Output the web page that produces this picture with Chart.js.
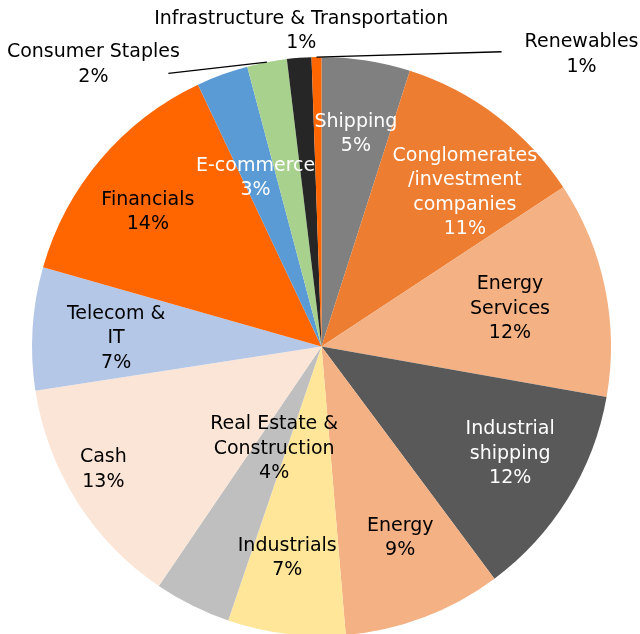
<!DOCTYPE html>
<html>
<head>
<meta charset="utf-8">
<script src="https://cdn.jsdelivr.net/npm/chart.js@4"></script>
<style>
  html, body { margin: 0; padding: 0; background: #fff; overflow: hidden; height: 634px; }
  canvas { display: block; }
</style>
</head>
<body>
<canvas id="chartPie" width="640" height="640"></canvas>
<script>
// sectors, clockwise from 12 o'clock
const labels = [
  ['Shipping'],
  ['Conglomerates', '/investment', 'companies'],
  ['Energy', 'Services'],
  ['Industrial', 'shipping'],
  ['Energy'],
  ['Industrials'],
  ['Real Estate &', 'Construction'],
  ['Cash'],
  ['Telecom &', 'IT'],
  ['Financials'],
  ['E-commerce'],
  ['Consumer Staples'],
  ['Infrastructure & Transportation'],
  ['Renewables']
];
const shares = [4.94, 10.8, 12.06, 12.03, 8.86, 6.56, 4.28, 13.06, 6.86, 13.58, 2.89, 2.22, 1.36, 0.55];

const colors = ['#808080', '#ED7D31', '#F4B183', '#595959', '#F4B183', '#FFE699', '#BFBFBF',
                '#FBE5D6', '#B4C7E7', '#FF6600', '#5B9BD5', '#A9D18E', '#262626', '#FF6600'];
const textColors = ['#fff', '#fff', '#000', '#fff', '#000', '#000', '#000',
                    '#000', '#000', '#000', '#fff', '#000', '#000', '#000'];

// label placement: [angle shift from mid-angle in degrees, radius as fraction of outer radius]
const labelPlace = [
  [0.3, 0.744], [5.8, 0.726], [0.3, 0.664], [-2, 0.75], [-1.6, 0.715], [2.2, 0.74],
  [-1.7, 0.39], [2.9, 0.865], [-1.2, 0.71], [-2.6, 0.758], [-1.3, 0.625],
  [-28.1, 1.253], [0.75, 1.092], [42.7, 1.35]
];
// leader lines for outside labels: offset of the elbow from the label centre (null = no line)
const leader = [null, null, null, null, null, null, null, null, null, null, null,
                [75, 9], null, [-80, -3]];

const total = shares.reduce((a, b) => a + b, 0);

const labelPlugin = {
  id: 'sliceLabels',
  afterDatasetsDraw(chart) {
    const ctx = chart.ctx;
    const arcs = chart.getDatasetMeta(0).data;
    ctx.save();
    ctx.font = '19px "DejaVu Sans"';
    ctx.textAlign = 'center';
    ctx.textBaseline = 'middle';
    const lh = 24.5;
    arcs.forEach((arc, i) => {
      const p = arc.getProps(['x', 'y', 'startAngle', 'endAngle', 'outerRadius'], true);
      const mid = (p.startAngle + p.endAngle) / 2 + labelPlace[i][0] * Math.PI / 180;
      const r = p.outerRadius * labelPlace[i][1];
      const cx = p.x + Math.cos(mid) * r;
      const cy = p.y + Math.sin(mid) * r;
      const lines = labels[i].concat([Math.round(shares[i] / total * 100) + '%']);
      if (leader[i]) {
        const am = (p.startAngle + p.endAngle) / 2;
        ctx.beginPath();
        ctx.strokeStyle = '#000';
        ctx.lineWidth = 1.3;
        ctx.moveTo(p.x + Math.cos(am) * p.outerRadius, p.y + Math.sin(am) * p.outerRadius);
        ctx.lineTo(cx + leader[i][0], cy + leader[i][1]);
        ctx.stroke();
      }
      ctx.fillStyle = textColors[i];
      const y0 = cy - (lines.length - 1) * lh / 2;
      lines.forEach((t, k) => ctx.fillText(t, cx, y0 + k * lh));
    });
    ctx.restore();
  }
};

const data = {
  labels: labels.map(l => l.join(' ')),
  datasets: [{
    data: shares,
    backgroundColor: colors,
    borderWidth: 0,
    hoverOffset: 0
  }]
};

const options = {
  responsive: false,
  animation: false,
  layout: { padding: { left: 32, right: 29, top: 57, bottom: 4 } },
  plugins: {
    legend: { display: false },
    tooltip: { enabled: false }
  }
};

new Chart(document.getElementById('chartPie'), {
  type: 'pie',
  data: data,
  options: options,
  plugins: [labelPlugin]
});
</script>
</body>
</html>
